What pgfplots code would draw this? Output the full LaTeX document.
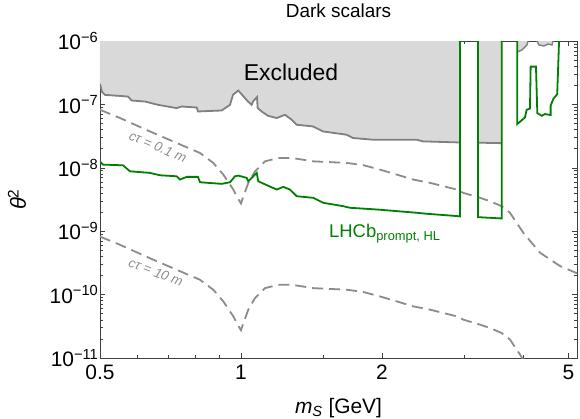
\documentclass[border=0pt]{standalone}
\usepackage{fontspec}
\setmainfont{Liberation Sans}
\usepackage{pgfplots}
\pgfplotsset{compat=1.18}
\definecolor{mgreen}{RGB}{0,128,0}
\definecolor{mgray}{RGB}{128,128,128}
\definecolor{dgray}{RGB}{140,140,140}
\definecolor{lgray}{RGB}{217,217,217}
\begin{document}
\begin{tikzpicture}
\begin{axis}[name=ax, scale only axis, width=477bp, height=317bp,
 xmode=log, ymode=log, xmin=0.5, xmax=5.214, ymin=1e-11, ymax=1e-6,
 xtick={0.5,1,2,5}, xticklabels={0.5,1,2,5},
 minor xtick={0.6,0.7,0.8,0.9,1.5,3,4},
 ytick={1e-11,1e-10,1e-9,1e-8,1e-7,1e-6},
 yticklabels={10\textsuperscript{−11},10\textsuperscript{−10},10\textsuperscript{−9},10\textsuperscript{−8},10\textsuperscript{−7},10\textsuperscript{−6}},
 minor ytick={2e-11,3e-11,4e-11,5e-11,6e-11,7e-11,8e-11,9e-11,
   2e-10,3e-10,4e-10,5e-10,6e-10,7e-10,8e-10,9e-10,
   2e-9,3e-9,4e-9,5e-9,6e-9,7e-9,8e-9,9e-9,
   2e-8,3e-8,4e-8,5e-8,6e-8,7e-8,8e-8,9e-8,
   2e-7,3e-7,4e-7,5e-7,6e-7,7e-7,8e-7,9e-7},
 tick align=inside, major tick length=5bp, minor tick length=3bp,
 every tick/.style={black!75, line width=0.6bp},
 axis line style={black!75, line width=0.8bp},
 tick label style={font=\fontsize{21}{25}\selectfont},
 yticklabel style={inner sep=1.5bp},
 xticklabel style={inner sep=1.5bp, yshift=-5bp},
 title={Dark scalars},
 title style={font=\fontsize{19}{22}\selectfont, at={(0.5,1.0568)}, anchor=base},
 xlabel={{\itshape m}\textsubscript{\itshape S} [GeV]},
 xlabel style={font=\fontsize{21}{25}\selectfont, at={(0.5,-0.1735)}, anchor=base},
 ylabel={{\itshape θ}\textsuperscript{2}},
 ylabel style={font=\fontsize{22}{26}\selectfont, at={(-0.174,0.5)}, anchor=center},
 clip=true,
]
% excluded region fill
\addplot[fill=lgray, draw=none] coordinates {
(0.5,1e-6) (0.5,2.108e-7) (0.5049,1.578e-7) (0.5124,1.415e-7) (0.5738,1.331e-7)
(0.5843,1.151e-7) (0.6237,1.110e-7) (0.6648,9.856e-8) (0.7290,8.745e-8) (0.7471,9.268e-8)
(0.8043,8.939e-8) (0.8094,7.735e-8) (0.9094,8.02e-8) (0.9472,9.856e-8) (0.9613,1.415e-7)
(0.9867,1.654e-7) (1.0348,1.110e-7) (1.0538,9.856e-8) (1.0606,1.110e-7) (1.0816,1.303e-7)
(1.0853,8.745e-8) (1.1069,7.735e-8) (1.1418,6.618e-8) (1.1917,6.09e-8) (1.2413,6.862e-8)
(1.2829,5.727e-8) (1.3148,4.778e-8) (1.4242,4.493e-8) (1.4961,3.749e-8) (1.6806,3.326e-8)
(1.7335,2.952e-8) (1.9127,2.776e-8) (2.3711,2.776e-8) (2.4457,2.610e-8) (2.8863,2.518e-8)
(2.9335,2.491e-8) (2.9335,1e-6)};
\addplot[fill=lgray, draw=none] coordinates {
(3.2051,1e-6) (3.2051,2.491e-8) (3.6007,2.446e-8) (3.6007,1e-6)};
\addplot[fill=lgray, draw=none] coordinates {
(3.888,1e-6) (3.888,6.714e-7) (3.979,7.219e-7) (4.077,8.651e-7) (4.098,1e-6)};
\addplot[fill=lgray, draw=none] coordinates {
(4.283,1e-6) (4.325,8.651e-7) (4.434,8.343e-7) (4.522,8.972e-7) (4.610,8.651e-7) (4.633,1e-6)};
% excluded boundary
\addplot[mgray, line width=1.8bp] coordinates {
(0.5,2.108e-7) (0.5049,1.578e-7) (0.5124,1.415e-7) (0.5738,1.331e-7)
(0.5843,1.151e-7) (0.6237,1.110e-7) (0.6648,9.856e-8) (0.7290,8.745e-8) (0.7471,9.268e-8)
(0.8043,8.939e-8) (0.8094,7.735e-8) (0.9094,8.02e-8) (0.9472,9.856e-8) (0.9613,1.415e-7)
(0.9867,1.654e-7) (1.0348,1.110e-7) (1.0538,9.856e-8) (1.0606,1.110e-7) (1.0816,1.303e-7)
(1.0853,8.745e-8) (1.1069,7.735e-8) (1.1418,6.618e-8) (1.1917,6.09e-8) (1.2413,6.862e-8)
(1.2829,5.727e-8) (1.3148,4.778e-8) (1.4242,4.493e-8) (1.4961,3.749e-8) (1.6806,3.326e-8)
(1.7335,2.952e-8) (1.9127,2.776e-8) (2.3711,2.776e-8) (2.4457,2.610e-8) (2.8863,2.518e-8)
(2.9335,2.491e-8)};
\addplot[mgray, line width=1.8bp] coordinates {(3.2051,2.491e-8) (3.6007,2.446e-8)};
\addplot[mgray, line width=1.4bp] coordinates {(3.888,6.714e-7) (3.979,7.219e-7) (4.077,8.651e-7) (4.098,1e-6)};
\addplot[mgray, line width=1.4bp] coordinates {(4.283,1e-6) (4.325,8.651e-7) (4.434,8.343e-7) (4.522,8.972e-7) (4.610,8.651e-7) (4.633,1e-6)};
% c tau = 0.1 m
\addplot[dgray, line width=1.8bp, dash pattern=on 11bp off 6bp] coordinates {
(0.5,8.226e-8) (0.552,6.09e-8) (0.6392,3.749e-8) (0.7290,2.463e-8) (0.8174,1.715e-8)
(0.8725,1.194e-8) (0.9166,7.819e-9) (0.9627,4.542e-9) (0.9852,3.280e-9) (1.0,2.736e-9)
(1.0097,3.400e-9) (1.0364,5.789e-9) (1.0711,8.81e-9) (1.1250,1.265e-8) (1.2011,1.431e-8)
(1.2829,1.431e-8) (1.4263,1.265e-8) (1.6806,1.194e-8) (1.8218,1.103e-8) (1.9796,9.369e-9)
(2.1493,7.819e-9) (2.3318,6.523e-9) (2.5314,5.789e-9) (2.8863,4.542e-9) (2.9815,4.030e-9)
(3.2368,3.363e-9) (3.3997,2.973e-9) (3.6007,2.481e-9) (3.7514,1.954e-9) (4.0033,9.472e-10)
(4.346,4.591e-10) (4.795,2.827e-10) (5.2139,2.170e-10)};
% c tau = 10 m
\addplot[dgray, line width=1.8bp, dash pattern=on 11bp off 6bp] coordinates {
(0.5,8.226e-10) (0.552,6.09e-10) (0.6392,3.749e-10) (0.7290,2.463e-10) (0.8174,1.715e-10)
(0.8725,1.194e-10) (0.9166,7.819e-11) (0.9627,4.542e-11) (0.9852,3.280e-11) (1.0,2.736e-11)
(1.0097,3.400e-11) (1.0364,5.789e-11) (1.0711,8.81e-11) (1.1250,1.265e-10) (1.2011,1.431e-10)
(1.2829,1.431e-10) (1.4263,1.265e-10) (1.6806,1.194e-10) (1.8218,1.103e-10) (1.9796,9.369e-11)
(2.1493,7.819e-11) (2.3318,6.523e-11) (2.5314,5.789e-11) (2.8863,4.542e-11) (2.9815,4.030e-11)
(3.2368,3.363e-11) (3.3997,2.973e-11) (3.6007,2.481e-11) (3.7514,1.954e-11) (4.0033,9.472e-12)};
% LHCb prompt HL
\addplot[mgreen, line width=1.8bp] coordinates {
(0.5,1.2515e-8) (0.5074,1.123e-8) (0.5599,1.095e-8) (0.5794,8.81e-9) (0.6392,8.315e-9)
(0.6714,7.624e-9) (0.7290,7.352e-9) (0.7409,6.523e-9) (0.7657,7.194e-9) (0.8094,7.194e-9)
(0.8174,5.916e-9) (0.9094,5.583e-9) (0.9472,5.916e-9) (0.9708,7.352e-9) (0.9867,7.541e-9)
(1.0283,6.937e-9) (1.0364,6.135e-9) (1.0621,7.352e-9) (1.0800,8.315e-9) (1.0885,6.135e-9)
(1.1156,5.644e-9) (1.1917,4.542e-9) (1.2309,5.008e-9) (1.2722,4.542e-9) (1.3148,3.563e-9)
(1.4263,3.363e-9) (1.4983,2.806e-9) (1.6527,2.481e-9) (1.7081,2.342e-9) (1.9478,2.202e-9)
(2.3711,1.954e-9) (2.4903,1.884e-9) (2.9091,1.727e-9) (2.9335,1.709e-9) (2.9335,1.2e-6)};
\addplot[mgreen, line width=1.8bp] coordinates {
(3.2051,1.2e-6) (3.2051,1.666e-9) (3.6007,1.589e-9) (3.6007,1.2e-6)};
\addplot[mgreen, line width=1.8bp] coordinates {
(3.888,1.2e-6) (3.888,4.900e-8) (4.037,6.223e-8) (4.071,8.226e-8) (4.138,8.620e-8)
(4.152,3.944e-7) (4.262,3.944e-7) (4.290,7.298e-8) (4.384,6.618e-8) (4.456,7.038e-8)
(4.580,6.788e-8) (4.580,9.506e-8) (4.639,1.2114e-7) (4.731,1.4516e-7) (4.778,1.2e-6)};
% labels
\node[rotate=-23, text=dgray, font=\itshape\fontsize{13.5}{16}\selectfont] at (axis cs:0.6648,2.154e-8) {cτ = 0.1 m};
\node[rotate=-21, text=dgray, font=\itshape\fontsize{13.5}{16}\selectfont] at (axis cs:0.6584,2.25e-10) {cτ = 10 m};
\node[font=\fontsize{23}{27}\selectfont] at (axis cs:1.2785,3.255e-7) {Excluded};
\node[anchor=base west, inner sep=0pt, text=mgreen, font=\fontsize{18.5}{22}\selectfont] at (axis cs:1.541,7.99e-10) {LHCb\textsubscript{prompt, HL}};
\end{axis}
\pgfresetboundingbox
\path ([shift={(-100bp,-61bp)}]ax.south west) rectangle ([shift={(3bp,41bp)}]ax.north east);
\end{tikzpicture}
\end{document}
